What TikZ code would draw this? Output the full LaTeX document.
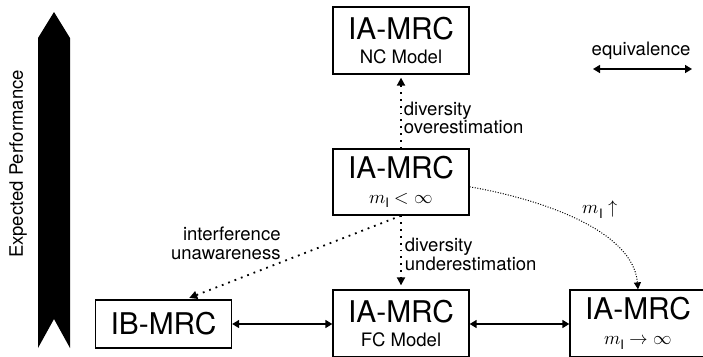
\documentclass[tikz,border=0pt]{standalone}
\usepackage{amsmath}
\usepackage{fontspec}
\usepackage{unicode-math}
\setmainfont{TeX Gyre Heros}
\setmathfont{Latin Modern Math}
\usetikzlibrary{arrows.meta,positioning,calc}
\newcommand{\titlefont}{\fontsize{30}{25}\selectfont}

\begin{document}
\begin{tikzpicture}[
    x=1bp, y=-1bp,
    box/.style={draw, line width=1.3bp, inner sep=0pt, minimum width=136bp, minimum height=67bp,
        align=center, font=\fontsize{18.6}{25}\selectfont},
    lbl/.style={font=\fontsize{18.6}{16}\selectfont, inner sep=1bp},
    eqv/.style={{Triangle[length=7bp,width=8bp]}-{Triangle[length=7bp,width=8bp]}, line width=1.5bp},
    dots/.style={-{Triangle[length=8bp,width=8bp]}, line width=1.8bp, dash pattern=on 1.8bp off 5bp},
]
\useasboundingbox (0,0) rectangle (703,356);

% --- performance axis ---
\fill (38,38) -- (54,12) -- (70,38) -- (70,348) -- (54,319) -- (38,348) -- cycle;
\node[rotate=90, font=\fontsize{18.6}{20}\selectfont] (perf) at (18,164) {Expected Performance};

% --- legend ---
\node[font=\fontsize{18.6}{20}\selectfont] (eqvtxt) at (641,51) {equivalence};
\coordinate (eqa) at (593,69);
\coordinate (eqb) at (692,69);
\draw[eqv] (eqa) -- (eqb);

% --- receivers ---
\node[box] (nc) at (401,40.5) {{\titlefont IA-MRC}\\NC Model};
\node[box, minimum height=66bp] (mid) at (401,182) {{\titlefont IA-MRC}\\$m_{\mathrm{I}}<\infty$};
\node[box] (fc) at (401,323.5) {{\titlefont IA-MRC}\\FC Model};
\node[box] (inf) at (638,323.5) {{\titlefont IA-MRC}\\$m_{\mathrm{I}}\to\infty$};
\node[box, minimum height=48bp, font=\titlefont] (ib) at (163.5,324) {IB-MRC};

% equivalences
\draw[eqv] (ib.east) -- (ib.east -| fc.west);
\draw[eqv] (fc.east |- ib.east) -- (inf.west |- ib.east);

% --- mismatches ---
\draw[dots, shorten >=3bp] (mid.north) -- (nc.south)
    node[lbl, midway, anchor=west, align=left, xshift=1bp, yshift=-6bp] (over) {diversity\\overestimation};
\draw[dots, shorten >=4bp] (mid.south) -- (fc.north)
    node[lbl, midway, anchor=west, align=left, xshift=2bp, yshift=-2bp] (under) {diversity\\underestimation};
\draw[dots, shorten >=4bp] (mid.south) -- ($(ib.north)+(22,0)$)
    node[lbl, pos=0.55, anchor=south east, align=right, font=\fontsize{18.6}{19}\selectfont] (unaw) {interference\\unawareness};

% growing m_I
\draw[-{Triangle[length=7bp,width=7bp]}, line width=1bp, dash pattern=on 1bp off 1.6bp]
    (mid.-4) .. controls (540,199) and (633,230) .. (inf.north)
    node[font=\fontsize{18.6}{20}\selectfont, pos=0.45, above right, inner sep=4bp, xshift=10bp, yshift=-7bp] (grow) {$m_{\mathrm{I}}\uparrow$};

\end{tikzpicture}
\end{document}
